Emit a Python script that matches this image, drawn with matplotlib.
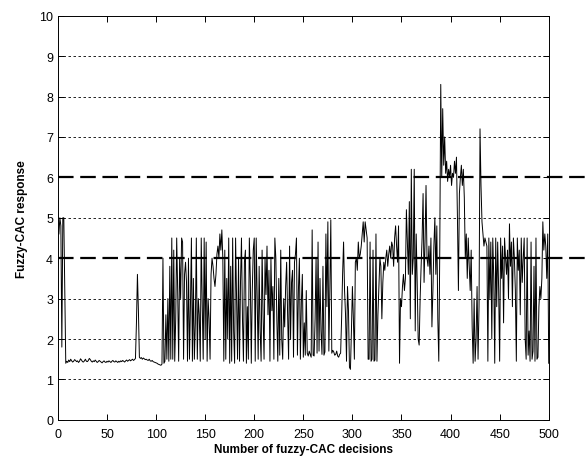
import numpy as np
import matplotlib
matplotlib.use('Agg')
import matplotlib.pyplot as plt

# ── Data ─────────────────────────────────────────────────────
response = [
    4.6, 5.0, 4.8, 1.8, 5.0, 5.0, 3.2, 1.4, 1.45, 1.42,
    1.48, 1.44, 1.50, 1.46, 1.43, 1.45, 1.49, 1.47, 1.44, 1.46,
    1.42, 1.45, 1.51, 1.48, 1.44, 1.43, 1.46, 1.50, 1.45, 1.44,
    1.47, 1.52, 1.49, 1.45, 1.43, 1.46, 1.44, 1.48, 1.45, 1.42,
    1.44, 1.47, 1.45, 1.43, 1.41, 1.44, 1.46, 1.43, 1.42, 1.45,
    1.43, 1.46, 1.44, 1.42, 1.45, 1.47, 1.44, 1.43, 1.46, 1.44,
    1.42, 1.45, 1.43, 1.46, 1.44, 1.47, 1.45, 1.43, 1.46, 1.48,
    1.45, 1.47, 1.49, 1.46, 1.48, 1.50, 1.47, 1.49, 1.52, 2.4,
    3.6, 2.7, 1.55, 1.52, 1.54, 1.50, 1.53, 1.51, 1.49, 1.50,
    1.48, 1.47, 1.50, 1.46, 1.45, 1.47, 1.44, 1.43, 1.42, 1.41,
    1.40, 1.38, 1.37, 1.36, 1.35, 1.38, 4.0, 1.4, 1.45, 2.6,
    1.5, 3.0, 1.45, 3.8, 1.5, 4.5, 1.5, 4.2, 1.45, 2.5,
    4.5, 3.2, 1.45, 4.0, 3.0, 4.5, 4.4, 1.5, 3.6, 3.9,
    3.4, 1.45, 4.0, 1.5, 2.8, 4.5, 1.45, 3.5, 1.5, 2.4,
    4.5, 1.5, 3.0, 2.6, 1.45, 4.5, 2.9, 1.5, 4.5, 2.0,
    4.4, 1.45, 3.0, 2.5, 1.5, 3.6, 4.0, 3.8, 3.5, 3.3,
    3.6, 4.1, 4.3, 4.0, 4.6, 4.2, 4.7, 4.0, 1.45, 4.2,
    1.5, 3.5, 2.0, 4.5, 1.4, 3.8, 1.45, 4.5, 2.2, 1.4,
    4.5, 3.0, 1.5, 4.0, 1.45, 3.4, 4.5, 2.5, 1.45, 3.9,
    4.2, 1.4, 2.8, 1.5, 4.5, 3.5, 1.4, 3.2, 4.2, 4.5,
    1.45, 4.5, 3.0, 1.5, 3.8, 2.2, 1.45, 4.2, 2.6, 1.5,
    4.0, 3.1, 4.3, 2.6, 3.7, 1.45, 4.0, 2.7, 3.3, 1.5,
    4.5, 4.0, 2.5, 1.45, 3.5, 1.6, 4.2, 2.0, 1.5, 3.0,
    2.3, 3.3, 3.9, 2.6, 1.5, 4.3, 2.0, 3.4, 3.7, 1.55,
    3.9, 4.1, 4.5, 1.6, 3.2, 4.0, 1.5, 2.9, 3.6, 1.55,
    2.4, 1.6, 3.2, 1.65, 1.58, 1.7, 1.62, 1.55, 4.7, 1.6,
    1.58, 2.5, 4.0, 1.65, 4.4, 1.7, 3.5, 2.2, 1.62, 3.8,
    1.6, 1.68, 4.6, 2.8, 4.9, 1.7, 3.2, 4.95, 1.65, 1.72,
    1.68, 1.6, 1.62, 1.7, 1.58, 1.55, 1.62, 1.65, 2.5, 3.6,
    4.4, 3.2, 2.6, 1.45, 3.3, 2.7, 1.3, 1.25, 2.2, 3.3,
    2.5, 1.5, 3.9, 4.0, 3.7, 4.4, 4.0, 4.1, 4.3, 4.6,
    4.9, 4.4, 4.9, 4.7, 4.5, 1.5, 1.5, 4.4, 1.45, 1.5,
    4.2, 1.45, 1.48, 4.6, 1.45, 2.6, 3.3, 4.0, 3.8, 2.5,
    3.4, 3.9, 3.7, 4.0, 4.2, 3.8, 4.1, 4.3, 4.0, 4.4,
    4.3, 3.8, 4.5, 4.8, 4.3, 3.9, 4.8, 1.4, 3.0, 2.8,
    3.3, 3.6, 3.2, 3.5, 5.2, 4.4, 3.6, 5.4, 2.5, 6.2,
    3.6, 4.0, 6.2, 2.2, 4.6, 3.4, 2.0, 1.85, 3.0, 3.8,
    4.5, 5.6, 3.4, 4.4, 5.8, 4.0, 3.8, 4.3, 3.6, 4.5,
    2.3, 3.2, 4.3, 5.0, 3.6, 4.8, 2.5, 1.45, 4.2, 8.3,
    6.0, 7.7, 6.3, 7.0, 6.1, 6.4, 5.9, 6.2, 6.0, 6.3,
    5.8, 6.1, 6.0, 6.4, 6.1, 6.5, 5.0, 3.2, 5.6, 6.0,
    6.3, 5.8, 6.2, 5.5, 4.0, 4.6, 3.5, 4.5, 3.8, 3.2,
    4.2, 2.3, 1.4, 3.0, 1.45, 2.0, 3.3, 1.5, 2.8, 7.2,
    5.8, 4.9, 4.6, 4.3, 4.5, 4.4, 4.3, 1.45, 4.5, 3.0,
    4.4, 2.0, 4.5, 3.5, 1.4, 4.5, 2.8, 4.4, 3.2, 1.45,
    4.5, 3.5, 4.3, 2.4, 4.5, 4.0, 3.6, 4.2, 3.0, 4.85,
    3.8, 4.4, 2.8, 4.5, 4.0, 3.2, 1.45, 4.5, 3.7, 4.2,
    2.6, 4.5, 3.4, 4.0, 4.5, 2.0, 1.5, 4.5, 1.6, 2.2,
    1.45, 4.4, 1.5, 1.7, 3.8, 1.45, 4.5, 1.5, 1.55, 2.8,
    3.3, 3.0, 3.5, 4.9, 4.2, 4.6, 4.3, 3.5, 4.6, 1.4,
]
decisions = np.arange(1, len(response) + 1)

thresholds = [4, 6]
grid_levels = [1, 2, 3, 5, 7, 8, 9]
x_ticks = [0, 50, 100, 150, 200, 250, 300, 350, 400, 450, 500]
y_ticks = [0, 1, 2, 3, 4, 5, 6, 7, 8, 9, 10]

# ── Plot ─────────────────────────────────────────────────────
plt.rcParams['font.family'] = ['Liberation Sans', 'DejaVu Sans']

fig = plt.figure(figsize=(5.85, 4.64), dpi=100)
ax = fig.add_axes([0.099, 0.093, 0.839, 0.871])

for lv in grid_levels:
    ax.axhline(lv, color="black", linewidth=0.6, linestyle=(0, (3, 3)), zorder=1)

ax.plot(decisions, response, color="black", linewidth=0.7, zorder=3)

# threshold lines run past the right edge of the axes
for th in thresholds:
    ax.plot([0, 560], [th, th], color="black", linewidth=1.6,
            linestyle=(0, (7, 3)), clip_on=False, zorder=4)

ax.set_xlim(0, 500)
ax.set_ylim(0, 10)
ax.set_xticks(x_ticks)
ax.set_yticks(y_ticks)
ax.tick_params(direction="in", top=True, right=True, labelsize=9, length=4, width=0.7)
ax.tick_params(axis="x", pad=6)
for s in ax.spines.values():
    s.set_linewidth(0.7)

ax.set_xlabel("Number of fuzzy-CAC decisions", fontsize=8.5, fontweight="bold", labelpad=2)
ax.set_ylabel("Fuzzy-CAC response", fontsize=8.5, fontweight="bold", labelpad=8)

plt.savefig("out.png", dpi=100)
plt.close()
